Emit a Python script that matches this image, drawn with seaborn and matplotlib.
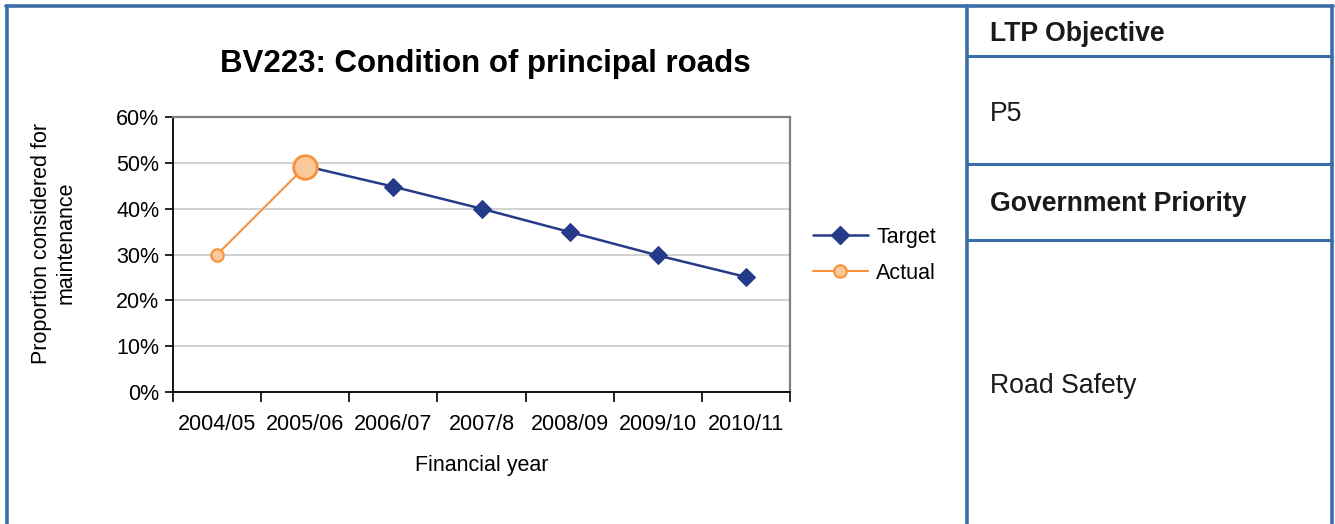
import pandas as pd
import seaborn as sns
import matplotlib.pyplot as plt
from matplotlib.lines import Line2D
from matplotlib.ticker import PercentFormatter, FixedLocator

# data
years = ["2004/05", "2005/06", "2006/07", "2007/8", "2008/09", "2009/10", "2010/11"]
target_years = ["2005/06", "2006/07", "2007/8", "2008/09", "2009/10", "2010/11"]
target_vals = [0.493, 0.448, 0.40, 0.349, 0.298, 0.251]
actual_years = ["2004/05", "2005/06"]
actual_vals = [0.30, 0.492]

navy = "#263a8a"
orange = "#f7923a"
peach = "#fbc89a"
frame_blue = "#3a6ea8"

sns.set_theme(style="white")
plt.rcParams["font.family"] = ["Liberation Sans", "DejaVu Sans"]
plt.rcParams["text.color"] = "black"
plt.rcParams["axes.labelcolor"] = "black"
plt.rcParams["xtick.color"] = "black"
plt.rcParams["ytick.color"] = "black"

df_t = pd.DataFrame({"pos": [years.index(y) for y in target_years], "value": target_vals})
df_a = pd.DataFrame({"pos": [years.index(y) for y in actual_years], "value": actual_vals})

fig = plt.figure(figsize=(13.35, 5.24), dpi=100)
ax = fig.add_axes([0.1296, 0.2519, 0.4622, 0.5248])

sns.lineplot(data=df_t, x="pos", y="value", ax=ax, color=navy, linewidth=1.8,
             marker="D", markersize=9.5, markeredgecolor=navy, label="Target")
sns.lineplot(data=df_a, x="pos", y="value", ax=ax, color=orange, linewidth=1.5,
             marker="o", markersize=9, markerfacecolor=peach,
             markeredgecolor=orange, markeredgewidth=1.5, label="Actual")
# latest actual value highlighted with a bigger marker
sns.scatterplot(x=df_a["pos"].iloc[-1:], y=df_a["value"].iloc[-1:], ax=ax, s=290,
                color=peach, edgecolor=orange, linewidth=2, zorder=5, legend=False)

ax.set_xlim(-0.5, len(years) - 0.5)
ax.set_ylim(0, 0.6)
ax.set_yticks([0, 0.1, 0.2, 0.3, 0.4, 0.5, 0.6])
ax.yaxis.set_major_formatter(PercentFormatter(1.0, decimals=0))
ax.xaxis.set_major_locator(FixedLocator([i - 0.5 for i in range(len(years) + 1)]))
ax.xaxis.set_minor_locator(FixedLocator(list(range(len(years)))))
ax.set_xticklabels([])
ax.set_xticklabels(years, minor=True)
ax.tick_params(axis="x", which="major", direction="out", length=7, width=1.2, bottom=True)
ax.tick_params(axis="x", which="minor", length=0, labelsize=15.5, pad=16, bottom=True)
ax.tick_params(axis="y", direction="out", length=6, width=1.2, labelsize=15.5, pad=4, left=True)

ax.grid(axis="y", color="#c8cbcb", linewidth=1.2)
ax.set_axisbelow(True)
for side in ["left", "bottom"]:
    ax.spines[side].set_color("black")
    ax.spines[side].set_linewidth(1.3)
for side in ["top", "right"]:
    ax.spines[side].set_color("#808080")
    ax.spines[side].set_linewidth(1.6)

ax.set_xlabel("Financial year", fontsize=15.5, labelpad=14)
ax.set_ylabel("Proportion considered for\nmaintenance", fontsize=15.5)
ax.yaxis.set_label_coords(-0.157, 0.542)
fig.text(0.3633, 0.878, "BV223: Condition of principal roads", ha="center", va="center",
         fontsize=22.5, fontweight="bold")

handles = [Line2D([], [], color=navy, linewidth=1.8, marker="D", markersize=9, markeredgecolor=navy),
           Line2D([], [], color=orange, linewidth=1.5, marker="o", markersize=9,
                  markerfacecolor=peach, markeredgecolor=orange, markeredgewidth=1.5)]
ax.legend(handles, ["Target", "Actual"], loc="center left", bbox_to_anchor=(1.005, 0.497),
          frameon=False, fontsize=15.5, handlelength=2.6, handletextpad=0.35, labelspacing=0.7)

# table frame around the chart
W, H = 1335.0, 524.0
def hline(y, x0, x1, lw=2.6):
    fig.add_artist(Line2D([x0 / W, x1 / W], [1 - y / H, 1 - y / H], color=frame_blue, linewidth=lw))
def vline(x, y0, y1, lw=2.6):
    fig.add_artist(Line2D([x / W, x / W], [1 - y0 / H, 1 - y1 / H], color=frame_blue, linewidth=lw))

hline(6, 6, 1333)
vline(7, 6, 524)
vline(967, 6, 524)
vline(1332, 6, 524)
hline(56, 967, 1332, lw=2.2)
hline(164, 967, 1332, lw=2.2)
hline(240, 967, 1332, lw=2.2)

fig.text(990 / W, 1 - 34 / H, "LTP Objective", fontsize=19.2, fontweight="bold", va="center", color="#1a1a1a")
fig.text(990 / W, 1 - 114 / H, "P5", fontsize=19.2, va="center", color="#1a1a1a")
fig.text(990 / W, 1 - 204 / H, "Government Priority", fontsize=19.2, fontweight="bold", va="center", color="#1a1a1a")
fig.text(990 / W, 1 - 386 / H, "Road Safety", fontsize=19.2, va="center", color="#1a1a1a")

fig.savefig("out.png", dpi=100, facecolor="white")
